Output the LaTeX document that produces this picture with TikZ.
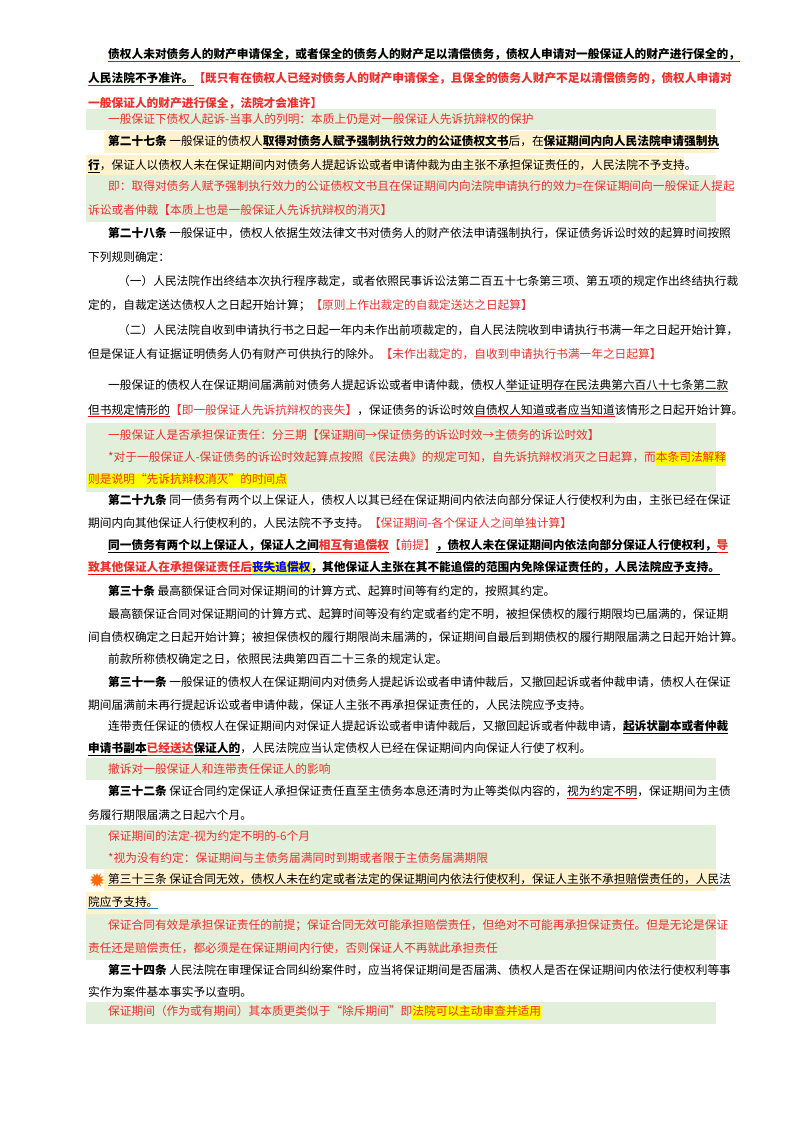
\documentclass[tikz,border=0pt]{standalone}
\usepackage{fontspec}
\usetikzlibrary{shapes.geometric}
\newfontfamily\cjk{Noto Sans CJK SC}
\definecolor{notegreen}{HTML}{E2EFDA}
\definecolor{notered}{HTML}{F0302A}
\definecolor{hlorange}{HTML}{FFF2CC}
\definecolor{hlyellow}{HTML}{FFFF00}
\definecolor{ulblue}{HTML}{2E75B6}
\newcommand{\ulc}[2]{\begingroup\setbox0\hbox{#2}\rlap{\textcolor{#1}{\rule[-0.35ex]{\wd0}{0.6pt}}}\box0\endgroup}
\newcommand{\redul}[1]{\ulc{red}{#1}}
\newcommand{\blkul}[1]{\ulc{black}{#1}}
\newcommand{\bluul}[1]{\ulc{ulblue}{#1}}
\newcommand{\hly}[1]{{\fboxsep=0pt\colorbox{hlyellow}{\strut #1}}}
\newcommand{\nt}[1]{\textcolor{notered}{#1}}
\newcommand{\art}[1]{\textbf{#1}\ }

\begin{document}
\begin{tikzpicture}[x=1pt,y=-1pt,
  ln/.style={anchor=west,inner sep=0pt,font=\cjk\fontsize{11.7}{14}\selectfont},
  notebox/.style={fill=notegreen},
  hlbox/.style={fill=hlorange}]
  \useasboundingbox (0,0) rectangle (800,1131);
  \fill[white] (0,0) rectangle (800,1131);

  %% -- background boxes
  \fill[notebox] (86,109) rectangle (716,130);
  \fill[hlbox]   (104,131) rectangle (716,153);
  \fill[hlbox]   (86,155) rectangle (684,177);
  \fill[notebox] (86,175) rectangle (716,222);
  \fill[notebox] (86,423) rectangle (716,492);
  \fill[notebox] (86,758) rectangle (716,780);
  \fill[notebox] (86,825) rectangle (716,869);
  \fill[hlbox]   (104,869) rectangle (716,891);
  \fill[hlbox]   (86,892) rectangle (150,914);
  \fill[notebox] (86,914) rectangle (716,960);
  \fill[notebox] (86,1002) rectangle (716,1024);

  %% -- text lines
  \node[ln] (l01) at (108,55) {\textbf{\redul{债权人未对债务人的财产申请保全，或者保全的债务人的财产足以清偿债务，债权人申请对一般保证人的财产进行保全的，}}};
  \node[ln] (l02) at (88,79) {\textbf{\redul{人民法院不予准许。}\nt{【既只有在债权人已经对债务人的财产申请保全，且保全的债务人财产不足以清偿债务的，债权人申请对}}};
  \node[ln] (l03) at (88,103) {\textbf{\nt{一般保证人的财产进行保全，法院才会准许】}}};
  \node[ln] (n01) at (108,119) {\nt{一般保证下债权人起诉-当事人的列明：本质上仍是对一般保证人先诉抗辩权的保护}};

  \node[ln] (l04) at (108,142) {\art{第二十七条}一般保证的债权人\textbf{\blkul{取得对债务人赋予强制执行效力的公证债权文书}}后，在\textbf{\blkul{保证期间内向人民法院申请强制执}}};
  \node[ln] (l05) at (88,166) {\textbf{\blkul{行}}，保证人以债权人未在保证期间内对债务人提起诉讼或者申请仲裁为由主张不承担保证责任的，人民法院不予支持。};
  \node[ln] (n02) at (108,186) {\nt{即：取得对债务人赋予强制执行效力的公证债权文书且在保证期间内向法院申请执行的效力=在保证期间向一般保证人提起}};
  \node[ln] (n03) at (88,210) {\nt{诉讼或者仲裁【本质上也是一般保证人先诉抗辩权的消灭】}};

  \node[ln] (l06) at (108,233) {\art{第二十八条}一般保证中，债权人依据生效法律文书对债务人的财产依法申请强制执行，保证债务诉讼时效的起算时间按照};
  \node[ln] (l07) at (88,257) {下列规则确定：};
  \node[ln] (l08) at (118,281) {（一）人民法院作出终结本次执行程序裁定，或者依照民事诉讼法第二百五十七条第三项、第五项的规定作出终结执行裁};
  \node[ln] (l09) at (88,305) {定的，自裁定送达债权人之日起开始计算；\nt{【原则上作出裁定的自裁定送达之日起算】}};
  \node[ln] (l10) at (118,330) {（二）人民法院自收到申请执行书之日起一年内未作出前项裁定的，自人民法院收到申请执行书满一年之日起开始计算，};
  \node[ln] (l11) at (88,354) {但是保证人有证据证明债务人仍有财产可供执行的除外。\nt{【未作出裁定的，自收到申请执行书满一年之日起算】}};
  \node[ln] (l12) at (108,386) {一般保证的债权人在保证期间届满前对债务人提起诉讼或者申请仲裁，债权人\redul{举证证明存在民法典第六百八十七条第二款}};
  \node[ln] (l13) at (88,411) {\redul{但书规定情形的}\nt{【即一般保证人先诉抗辩权的丧失】}，保证债务的诉讼时效\redul{自债权人知道或者应当知道}该情形之日起开始计算。};
  \node[ln] (n04) at (108,435) {\nt{一般保证人是否承担保证责任：分三期【保证期间→保证债务的诉讼时效→主债务的诉讼时效】}};
  \node[ln] (n05) at (108,459) {\nt{*对于一般保证人-保证债务的诉讼时效起算点按照《民法典》的规定可知，自先诉抗辩权消灭之日起算，而\hly{本条司法解释}}};
  \node[ln] (n06) at (88,481) {\nt{\hly{则是说明“先诉抗辩权消灭”的时间点}}};

  \node[ln] (l14) at (108,500) {\art{第二十九条}同一债务有两个以上保证人，债权人以其已经在保证期间内依法向部分保证人行使权利为由，主张已经在保证};
  \node[ln] (l15) at (88,523) {期间内向其他保证人行使权利的，人民法院不予支持。\nt{【保证期间-各个保证人之间单独计算】}};
  \node[ln] (l16) at (108,546) {\textbf{\blkul{同一债务有两个以上保证人，保证人之间}\nt{\redul{相互有追偿权}}}\nt{【前提】}\textbf{\blkul{，债权人未在保证期间内依法向部分保证人行使权利，}\nt{\redul{导}}}};
  \node[ln] (l17) at (88,569) {\textbf{\nt{\redul{致其他保证人在承担保证责任后}}\hly{\textcolor{blue}{\bluul{丧失追偿权}}}\blkul{，其他保证人主张在其不能追偿的范围内免除保证责任的，人民法院应予支持。}}};

  \node[ln] (l18) at (108,591) {\art{第三十条}最高额保证合同对保证期间的计算方式、起算时间等有约定的，按照其约定。};
  \node[ln] (l19) at (108,614) {最高额保证合同对保证期间的计算方式、起算时间等没有约定或者约定不明，被担保债权的履行期限均已届满的，保证期};
  \node[ln] (l20) at (88,637) {间自债权确定之日起开始计算；被担保债权的履行期限尚未届满的，保证期间自最后到期债权的履行期限届满之日起开始计算。};
  \node[ln] (l21) at (108,659) {前款所称债权确定之日，依照民法典第四百二十三条的规定认定。};

  \node[ln] (l22) at (108,682) {\art{第三十一条}一般保证的债权人在保证期间内对债务人提起诉讼或者申请仲裁后，又撤回起诉或者仲裁申请，债权人在保证};
  \node[ln] (l23) at (88,705) {期间届满前未再行提起诉讼或者申请仲裁，保证人主张不再承担保证责任的，人民法院应予支持。};
  \node[ln] (l24) at (108,727) {连带责任保证的债权人在保证期间内对保证人提起诉讼或者申请仲裁后，又撤回起诉或者仲裁申请，\textbf{\blkul{起诉状副本或者仲裁}}};
  \node[ln] (l25) at (88,749) {\textbf{\blkul{申请书副本}\nt{\redul{已经送达}}\blkul{保证人的}}，人民法院应当认定债权人已经在保证期间内向保证人行使了权利。};
  \node[ln] (n07) at (108,769) {\nt{撤诉对一般保证人和连带责任保证人的影响}};

  \node[ln] (l26) at (108,792) {\art{第三十二条}保证合同约定保证人承担保证责任直至主债务本息还清时为止等类似内容的，\redul{视为约定不明}，保证期间为主债};
  \node[ln] (l27) at (88,815) {务履行期限届满之日起六个月。};
  \node[ln] (n08) at (108,836) {\nt{保证期间的法定-视为约定不明的-6个月}};
  \node[ln] (n09) at (108,858) {\nt{*视为没有约定：保证期间与主债务届满同时到期或者限于主债务届满期限}};

  \node[star,star points=12,star point ratio=1.8,fill=orange!85!red,minimum size=15pt,inner sep=0pt] (mark) at (97,880) {};
  \node[ln] (l28) at (108,880) {\bluul{第三十三条 保证合同无效，债权人未在约定或者法定的保证期间内依法行使权利，保证人主张不承担赔偿责任的，人民法}};
  \node[ln] (l29) at (88,903) {\bluul{院应予支持。}};
  \node[ln] (n10) at (108,925) {\nt{保证合同有效是承担保证责任的前提；保证合同无效可能承担赔偿责任，但绝对不可能再承担保证责任。但是无论是保证}};
  \node[ln] (n11) at (88,948) {\nt{责任还是赔偿责任，都必须是在保证期间内行使，否则保证人不再就此承担责任}};

  \node[ln] (l30) at (108,970) {\art{第三十四条}人民法院在审理保证合同纠纷案件时，应当将保证期间是否届满、债权人是否在保证期间内依法行使权利等事};
  \node[ln] (l31) at (88,992) {实作为案件基本事实予以查明。};
  \node[ln] (n12) at (108,1013) {\nt{保证期间（作为或有期间）其本质更类似于“除斥期间”即\hly{法院可以主动审查并适用}}};

\end{tikzpicture}
\end{document}
